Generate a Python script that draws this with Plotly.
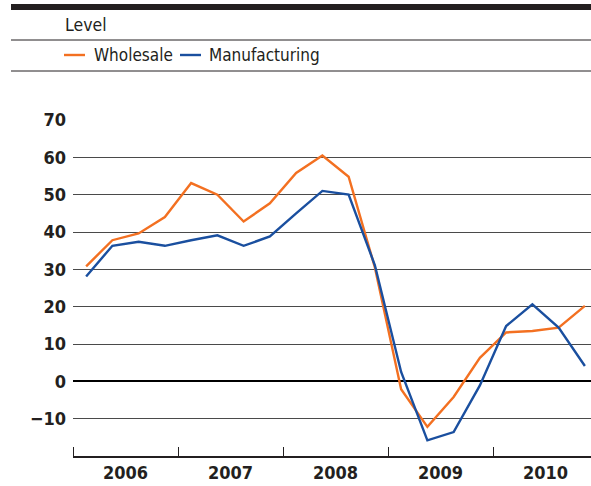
import plotly.graph_objects as go

# Quarterly readings, 2006 Q1 - 2010 Q4
quarters = [f"{y}Q{q}" for y in range(2006, 2011) for q in range(1, 5)]
wholesale = [30.8, 37.8, 39.6, 44.0, 53.1, 50.0, 42.8, 47.7,
             55.8, 60.5, 54.8, 30.5, -2.1, -12.2, -4.2, 6.3,
             13.1, 13.5, 14.4, 20.2]
manufacturing = [28.1, 36.3, 37.4, 36.3, 37.8, 39.1, 36.3, 38.8,
                 45.0, 51.0, 50.0, 31.1, 2.5, -15.8, -13.6, -1.1,
                 14.8, 20.6, 14.4, 4.1]
series_names = ["Wholesale", "Manufacturing"]
series_colors = ["#f37021", "#1a4f9f"]
year_labels = ["2006", "2007", "2008", "2009", "2010"]
y_ticks = [-10, 0, 10, 20, 30, 40, 50, 60, 70]

# place each quarter at its mid-point on a fractional-year axis
xs = [int(q[:4]) + (int(q[-1]) - 0.5) / 4 for q in quarters]

W, H = 591, 486
L, R, T, B = 73, 0, 120, 30
PW, PH = W - L - R, H - T - B


def px(x):
    return (x - L) / PW


def py(y):
    return (H - B - y) / PH


FONT = "DejaVu Sans Condensed, Liberation Sans Narrow, DejaVu Sans, sans-serif"
TXT = "#231f20"

fig = go.Figure()
for name, vals, col in zip(series_names, [wholesale, manufacturing], series_colors):
    fig.add_trace(go.Scatter(x=xs, y=vals, mode="lines", name=name,
                             line=dict(color=col, width=2.4), showlegend=False))

shapes = [
    # heavy rule at the very top
    dict(type="rect", xref="paper", yref="paper", x0=px(11), x1=1.0,
         y0=py(10), y1=py(4), fillcolor="#231f20", line=dict(width=0)),
    dict(type="line", xref="paper", yref="paper", x0=px(11), x1=1.0,
         y0=py(40), y1=py(40), line=dict(color="#231f20", width=1)),
    dict(type="line", xref="paper", yref="paper", x0=px(11), x1=1.0,
         y0=py(71), y1=py(71), line=dict(color="#231f20", width=1)),
]
annotations = [
    dict(text="Level", xref="paper", yref="paper", x=px(63), y=py(25),
         xanchor="left", yanchor="middle", showarrow=False,
         font=dict(family=FONT, size=17.5, color=TXT)),
]

# hand-built legend row
legend_x = [(64, 92), (180, 207)]
for (lx, tx), name, col in zip(legend_x, series_names, series_colors):
    shapes.append(dict(type="line", xref="paper", yref="paper",
                       x0=px(lx), x1=px(lx + 21), y0=py(55), y1=py(55),
                       line=dict(color=col, width=2.4)))
    annotations.append(dict(text=name, xref="paper", yref="paper",
                            x=px(tx), y=py(55), xanchor="left", yanchor="middle",
                            showarrow=False,
                            font=dict(family=FONT, size=17, color=TXT)))

fig.update_layout(
    width=W, height=H,
    margin=dict(l=L, r=R, t=T, b=B, pad=0),
    paper_bgcolor="white", plot_bgcolor="white",
    shapes=shapes, annotations=annotations,
    xaxis=dict(
        range=[2006, 2006 + PW / 105.0],
        tickvals=[int(y) + 0.5 for y in year_labels], ticktext=year_labels,
        ticks="", showgrid=False, zeroline=False,
        showline=True, linecolor="#231f20", linewidth=1.5,
        tickfont=dict(family=FONT, size=18, color=TXT, weight="bold"),
        minor=dict(tickvals=[int(y) for y in year_labels], ticks="inside",
                   ticklen=9, tickwidth=1.2, tickcolor="#231f20", showgrid=False),
    ),
    yaxis=dict(
        range=[-20, 70], tickvals=y_ticks,
        showgrid=True, gridcolor="#4a4a4a", gridwidth=1,
        zeroline=True, zerolinecolor="#000000", zerolinewidth=2.4,
        showline=False, ticks="", ticklabelstandoff=6,
        tickfont=dict(family=FONT, size=18, color=TXT, weight="bold"),
        tickformat="d",
    ),
)

fig.write_html("out.html")
